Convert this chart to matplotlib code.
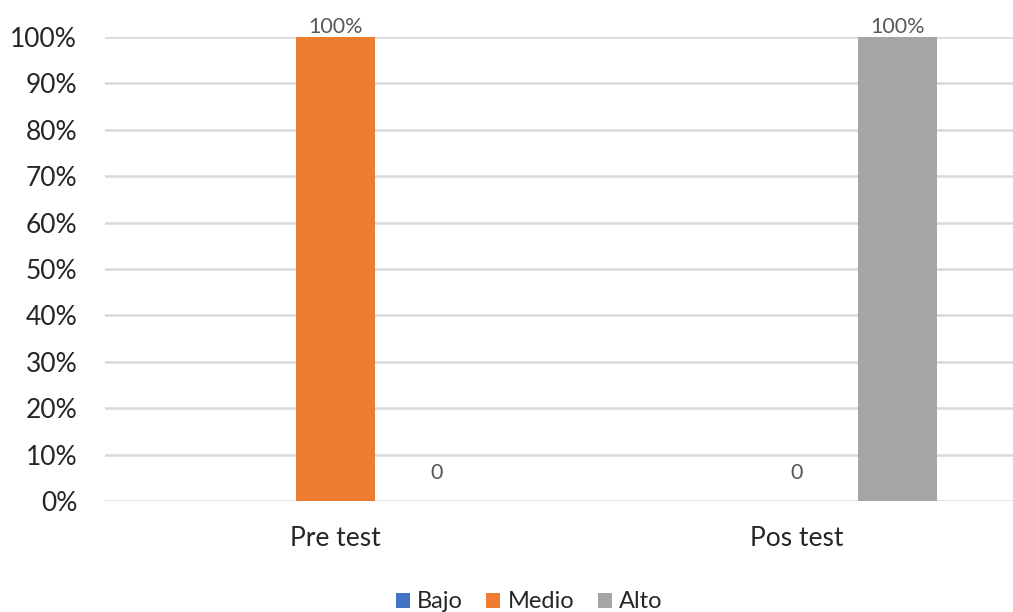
import matplotlib.pyplot as plt
import numpy as np

# chart data
categories = ['Pre test', 'Pos test']
series_names = ['Bajo', 'Medio', 'Alto']
bajo = [None, None]
medio = [1.0, 0.0]
alto = [0.0, 1.0]
colors = ['#4472C4', '#ED7D31', '#A5A5A5']
y_ticks = [0, 0.1, 0.2, 0.3, 0.4, 0.5, 0.6, 0.7, 0.8, 0.9, 1.0]

plt.rcParams['font.family'] = ['Lato', 'DejaVu Sans']

fig = plt.figure(figsize=(10.13, 6.12), dpi=100)
# axes runs past the right edge, like the cropped original
ax = fig.add_axes([105 / 1013, 111 / 612, 922 / 1013, 464 / 612])

x = np.arange(len(categories))
width = 0.173
offset = 0.219

for i, (name, vals, col) in enumerate(zip(series_names, [bajo, medio, alto], colors)):
    pos = x + (i - 1) * offset
    heights = [v if v is not None else 0 for v in vals]
    ax.bar(pos, heights, width, color=col, label=name, zorder=3)
    for p, v in zip(pos, vals):
        if v is None:
            continue
        txt = '0' if v == 0 else f'{v:.0%}'
        dy = 13 if v == 0 else 0
        ax.annotate(txt, (p, v), xytext=(0, dy), textcoords='offset points',
                    ha='center', va='bottom', fontsize=15.5, color='#595959')

ax.set_xlim(-0.5, 1.5)
ax.set_ylim(0, 1)
ax.set_yticks(y_ticks)
ax.set_yticklabels([f'{t:.0%}' for t in y_ticks])
ax.set_xticks(x)
ax.set_xticklabels(categories)
ax.tick_params(axis='y', length=0, pad=20, labelsize=19, labelcolor='#262626')
ax.tick_params(axis='x', length=0, pad=18, labelsize=19, labelcolor='#262626')
ax.grid(axis='y', color='#D9D9D9', linewidth=1.8, zorder=0)
for s in ax.spines.values():
    s.set_visible(False)

ax.legend(loc='center', bbox_to_anchor=(529 / 1013, 10 / 612), bbox_transform=fig.transFigure,
          ncol=3, frameon=False, fontsize=17, handlelength=0.6, handleheight=0.6,
          handletextpad=0.3, columnspacing=1.0, labelcolor='#262626')

plt.savefig('out.png', dpi=100)
plt.close()
